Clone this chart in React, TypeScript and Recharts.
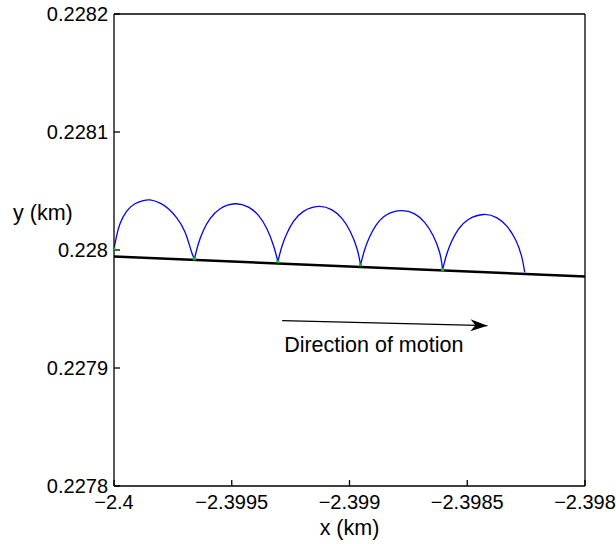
import React from 'react';
import { ComposedChart, Line, Scatter, XAxis, YAxis } from 'recharts';

const font = '"Liberation Sans", Arial, Helvetica, sans-serif';

const xTicks = [-2.4, -2.3995, -2.399, -2.3985, -2.398];
const yTicks = [0.2278, 0.2279, 0.228, 0.2281, 0.2282];

// blue path, one array per arch
const arch1 = [
    { x: -2.4, y: 0.228001 },
    { x: -2.3999894, y: 0.2280115 },
    { x: -2.3999745, y: 0.2280222 },
    { x: -2.399946, y: 0.228033 },
    { x: -2.3999107, y: 0.2280392 },
    { x: -2.3998755, y: 0.2280418 },
    { x: -2.399847, y: 0.2280424 },
    { x: -2.3998045, y: 0.2280397 },
    { x: -2.3997692, y: 0.228035 },
    { x: -2.3997335, y: 0.2280273 },
    { x: -2.3996982, y: 0.2280151 },
    { x: -2.3996727, y: 0.2279996 },
    { x: -2.3996587, y: 0.2279925 },
];
const arch2 = [
    { x: -2.3996587, y: 0.2279922 },
    { x: -2.3996417, y: 0.2280053 },
    { x: -2.3996204, y: 0.2280166 },
    { x: -2.3995919, y: 0.2280265 },
    { x: -2.3995494, y: 0.228035 },
    { x: -2.3994857, y: 0.2280392 },
    { x: -2.3994291, y: 0.2280363 },
    { x: -2.3993866, y: 0.2280293 },
    { x: -2.3993509, y: 0.228018 },
    { x: -2.3993228, y: 0.2280038 },
    { x: -2.3993041, y: 0.2279902 },
];
const arch3 = [
    { x: -2.3993041, y: 0.2279902 },
    { x: -2.3992871, y: 0.228003 },
    { x: -2.3992659, y: 0.228014 },
    { x: -2.3992378, y: 0.2280242 },
    { x: -2.3991953, y: 0.2280327 },
    { x: -2.3991315, y: 0.2280369 },
    { x: -2.3990746, y: 0.228034 },
    { x: -2.3990321, y: 0.2280268 },
    { x: -2.3989968, y: 0.2280157 },
    { x: -2.3989683, y: 0.2280013 },
    { x: -2.398953, y: 0.2279874 },
];
const arch4 = [
    { x: -2.398953, y: 0.2279874 },
    { x: -2.398936, y: 0.228 },
    { x: -2.3989148, y: 0.228011 },
    { x: -2.3988863, y: 0.2280212 },
    { x: -2.3988438, y: 0.2280297 },
    { x: -2.39878, y: 0.2280333 },
    { x: -2.3987235, y: 0.2280306 },
    { x: -2.398681, y: 0.2280234 },
    { x: -2.3986452, y: 0.2280123 },
    { x: -2.3986172, y: 0.2279979 },
    { x: -2.3986045, y: 0.2279834 },
];
const arch5 = [
    { x: -2.3986045, y: 0.2279834 },
    { x: -2.3985875, y: 0.2279962 },
    { x: -2.3985665, y: 0.2280072 },
    { x: -2.3985379, y: 0.2280174 },
    { x: -2.3984954, y: 0.2280259 },
    { x: -2.3984302, y: 0.2280301 },
    { x: -2.3983736, y: 0.2280272 },
    { x: -2.3983311, y: 0.22802 },
    { x: -2.3982954, y: 0.2280089 },
    { x: -2.3982699, y: 0.2279953 },
    { x: -2.3982559, y: 0.2279811 },
];

const groundLine = [
    { x: -2.4, y: 0.2279945 },
    { x: -2.398, y: 0.2279775 },
];

const contactPts = [
    { x: -2.4, y: 0.228001 },
    { x: -2.3996587, y: 0.2279925 },
    { x: -2.3993041, y: 0.2279902 },
    { x: -2.398953, y: 0.2279874 },
    { x: -2.3986045, y: 0.2279834 },
];

const arrowPts = [
    { x: -2.3992859, y: 0.2279401 },
    { x: -2.3984144, y: 0.2279359 },
];

const fmt = (v: number) => String(v).replace('-', '\u2212');

const ArrowDot = (props: any) => {
    const { cx, cy, index } = props;
    if (index === 0) {
        return (
            <text key="lbl" x={cx + 2} y={cy + 31} fontSize={21.5} fontFamily={font} fill="#000">
                Direction of motion
            </text>
        );
    }
    return (
        <path
            key="head"
            d="M0,0 L-17,-6 L-12,0 L-17,6 Z"
            transform={`translate(${cx},${cy}) rotate(1.4)`}
            fill="#000"
        />
    );
};

const tickStyle = { fill: '#000', fontSize: 20, fontFamily: font };
const axisStyle = { stroke: '#000', strokeWidth: 1.3 };

export default function App() {
    const arches = [arch1, arch2, arch3, arch4, arch5];
    return (
        <div style={{ position: 'absolute', left: 0, top: 0, background: '#fff' }}>
            <ComposedChart width={616} height={544} margin={{ top: 13, right: 30, bottom: 18, left: 14 }}>
                <XAxis
                    xAxisId="x"
                    dataKey="x"
                    type="number"
                    domain={[-2.4, -2.398]}
                    ticks={xTicks}
                    allowDataOverflow
                    height={40}
                    tickSize={-6}
                    tickMargin={15}
                    tickFormatter={fmt}
                    tick={tickStyle}
                    axisLine={axisStyle}
                    tickLine={axisStyle}
                    label={(p: any) => (
                        <text
                            x={p.viewBox.x + p.viewBox.width / 2}
                            y={p.viewBox.y + 49}
                            textAnchor="middle"
                            fontSize={21.5}
                            fontFamily={font}
                            fill="#000"
                        >
                            x (km)
                        </text>
                    )}
                />
                <XAxis
                    xAxisId="top"
                    orientation="top"
                    dataKey="x"
                    type="number"
                    domain={[-2.4, -2.398]}
                    ticks={xTicks}
                    allowDataOverflow
                    height={1}
                    tickSize={-6}
                    tick={false}
                    axisLine={axisStyle}
                    tickLine={axisStyle}
                />
                <YAxis
                    yAxisId="y"
                    type="number"
                    domain={[0.2278, 0.2282]}
                    ticks={yTicks}
                    allowDataOverflow
                    width={100}
                    tickSize={-6}
                    tickMargin={12}
                    tick={tickStyle}
                    axisLine={axisStyle}
                    tickLine={axisStyle}
                    label={(p: any) => (
                        <text x={p.viewBox.x - 1} y={220} fontSize={21.5} fontFamily={font} fill="#000">
                            y (km)
                        </text>
                    )}
                />
                <YAxis
                    yAxisId="right"
                    orientation="right"
                    type="number"
                    domain={[0.2278, 0.2282]}
                    ticks={yTicks}
                    allowDataOverflow
                    width={1}
                    tickSize={-6}
                    tick={false}
                    axisLine={axisStyle}
                    tickLine={axisStyle}
                />
                <Line
                    xAxisId="x"
                    yAxisId="y"
                    data={groundLine}
                    dataKey="y"
                    type="linear"
                    stroke="#000"
                    strokeWidth={2.5}
                    dot={false}
                    isAnimationActive={false}
                />
                {arches.map((a, i) => (
                    <Line
                        key={i}
                        xAxisId="x"
                        yAxisId="y"
                        data={a}
                        dataKey="y"
                        type="natural"
                        stroke="#0000ff"
                        strokeWidth={1.3}
                        dot={false}
                        isAnimationActive={false}
                    />
                ))}
                <Scatter
                    xAxisId="x"
                    yAxisId="y"
                    data={contactPts}
                    dataKey="y"
                    fill="#00cc00"
                    shape={(p: any) => (
                        <rect x={p.cx - 1.5} y={p.cy - 1.5} width={3} height={3} fill="#00cc00" />
                    )}
                    isAnimationActive={false}
                />
                <Line
                    xAxisId="x"
                    yAxisId="y"
                    data={arrowPts}
                    dataKey="y"
                    type="linear"
                    stroke="#000"
                    strokeWidth={1.2}
                    dot={ArrowDot}
                    isAnimationActive={false}
                />
            </ComposedChart>
        </div>
    );
}
